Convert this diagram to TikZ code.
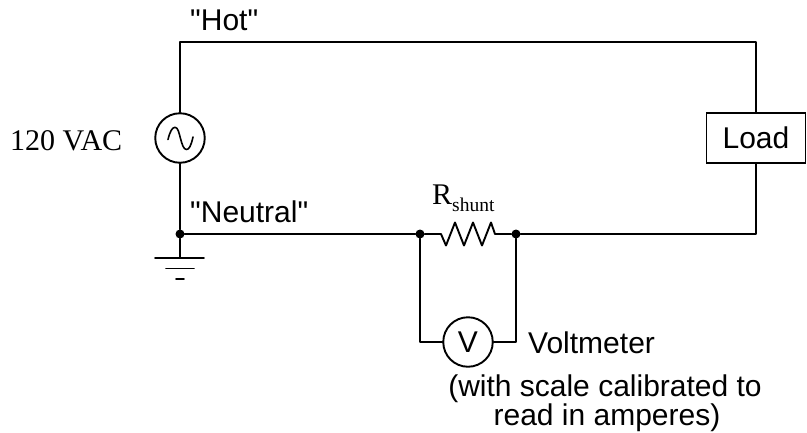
\documentclass[tikz,border=0pt]{standalone}
\usepackage{fontspec}
\newfontfamily\sansnm{Liberation Sans}
\newfontfamily\serifnm{Liberation Serif}
\begin{document}
\begin{tikzpicture}[x=1pt,y=-1pt,
  wire/.style={line width=1.9pt,line cap=round,line join=round,black},
  sine/.style={line width=1.6pt,line cap=round,line join=round,black},
  meter/.style={circle,draw=black,line width=1.9pt,minimum size=49.5pt,inner sep=0pt,font=\sansnm\fontsize{30}{30}\selectfont},
  loadbox/.style={rectangle,draw=black,line width=1.9pt,minimum width=99pt,minimum height=49.5pt,inner sep=0pt,font=\sansnm\fontsize{30}{30}\selectfont},
  dot/.style={circle,fill=black,inner sep=0pt,minimum size=9pt},
  lab/.style={anchor=base west,inner sep=0pt,font=\sansnm\fontsize{30}{34}\selectfont},
  serlab/.style={anchor=base west,inner sep=0pt,font=\serifnm\fontsize{30}{30}\selectfont}]
\useasboundingbox (0,0) rectangle (807,432);
\node[meter] (src) at (180,138) {};
\draw[sine] (168,139.5) .. controls (170,131) and (172.5,127.3) .. (175,127.3) .. controls (178,127.3) and (179,133) .. (180.5,138.5) .. controls (182,144) and (183.5,149.5) .. (186.5,149.5) .. controls (189,149.5) and (191,146) .. (193,137);
\node[loadbox] (load) at (756,138) {\raisebox{-1.5pt}{Load}\hspace{11pt}};
\node[meter] (vm) at (468,342) {\raisebox{-2pt}{V}};
\coordinate (tl) at (180,42);
\coordinate (tr) at (756,42);
\coordinate (br) at (756,234);
\node[dot] (gnd) at (180,234) {};
\node[dot] (ra) at (420,234) {};
\node[dot] (rb) at (516,234) {};
\coordinate (g1) at (180,258);
\coordinate (vl) at (420,342);
\coordinate (vr) at (516,342);
\draw[wire] (src) -- (tl) -- (tr) -- (load);
\draw[wire] (load) -- (br) -- (rb);
\draw[wire] (src) -- (gnd) -- (ra);
\draw[wire] (gnd) -- (g1);
\draw[wire] (ra) -- (441,234) -- (446,245.5) -- (455,222.5) -- (464,245.5) -- (473,222.5) -- (482,245.5) -- (491,222.5) -- (495,234) -- (rb);
\draw[wire] (ra) -- (vl) -- (vm);
\draw[wire] (rb) -- (vr) -- (vm);
\draw[wire] (155,258) -- (204,258);
\draw[wire] (166,268.5) -- (194,268.5);
\draw[wire] (176,279) -- (184,279);
\node[lab] (hot) at (190,30) {"Hot"};
\node[lab] (neu) at (190,222) {"Neutral"};
\node[serlab] (vac) at (10,150) {120 VAC};
\node[serlab] (rs) at (432,204) {R\raisebox{-7pt}{\fontsize{19.5}{19.5}\selectfont shunt}};
\node[lab] (vt) at (528,353) {Voltmeter};
\node[lab,anchor=base] (c1) at (605,396) {(with scale calibrated to};
\node[lab,anchor=base] (c2) at (607,425) {read in amperes)};
\end{tikzpicture}
\end{document}
